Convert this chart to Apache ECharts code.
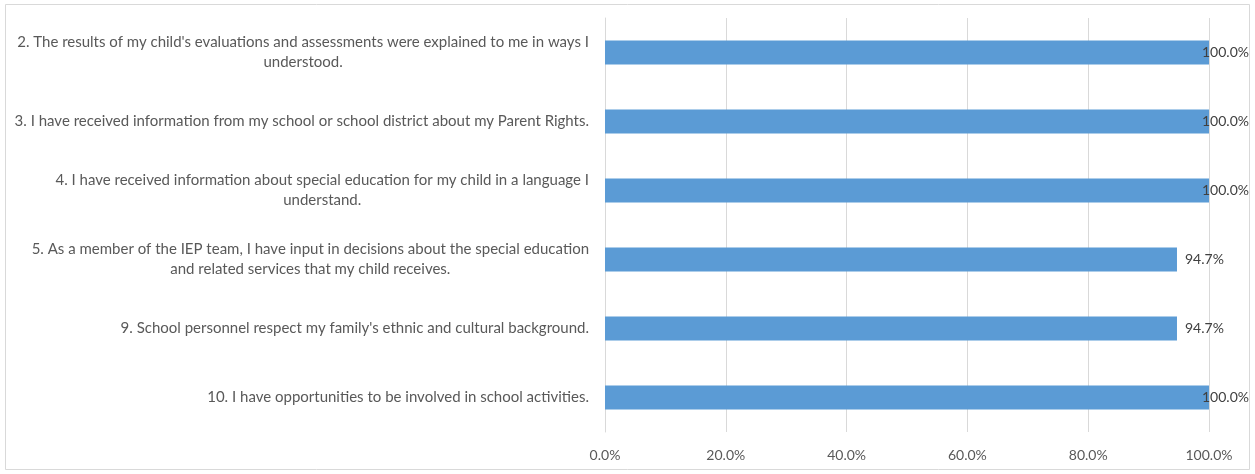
<!DOCTYPE html>
<html>
<head>
<meta charset="utf-8">
<script src="https://cdn.jsdelivr.net/npm/echarts@6/dist/echarts.min.js"></script>
<style>
html,body{margin:0;padding:0;background:#fff;}
#chart{width:1255px;height:474px;}
</style>
</head>
<body>
<div id="chart"></div>
<script>
var categories = [
  "2. The results of my child's evaluations and assessments were explained to me in ways I\nunderstood.",
  "3. I have received information from my school or school district about my Parent Rights.",
  "4. I have received information about special education for my child in a language I\nunderstand.",
  "5. As a member of the IEP team, I have input in decisions about the special education\nand related services that my child receives.",
  "9. School personnel respect my family's ethnic and cultural background.",
  "10. I have opportunities to be involved in school activities."
];
var values = [100.0, 100.0, 100.0, 94.7, 94.7, 100.0];
var xTicks = [0, 20, 40, 60, 80, 100];

var FONT = 'Lato';
var chart = echarts.init(document.getElementById('chart'), null, {renderer: 'canvas'});
chart.setOption({
  animation: false,
  backgroundColor: '#ffffff',
  graphic: [{
    type: 'rect',
    shape: {x: 5.5, y: 4.5, width: 1244, height: 465},
    style: {fill: 'none', stroke: '#d9d9d9', lineWidth: 1},
    silent: true, z: -10
  }],
  grid: {left: 605, right: 46, top: 18, bottom: 42, containLabel: false},
  xAxis: {
    type: 'value',
    min: xTicks[0],
    max: xTicks[xTicks.length - 1],
    interval: xTicks[1] - xTicks[0],
    axisLine: {show: false},
    axisTick: {show: false},
    splitLine: {show: true, lineStyle: {color: '#d9d9d9', width: 1}},
    axisLabel: {
      color: '#595959', fontFamily: FONT, fontSize: 14, margin: 16,
      formatter: function (v) { return v.toFixed(1) + '%'; }
    }
  },
  yAxis: {
    type: 'category',
    data: categories,
    inverse: true,
    axisLine: {show: true, lineStyle: {color: '#d9d9d9'}},
    axisTick: {show: false},
    axisLabel: {
      margin: 16,
      align: 'right',
      color: '#595959',
      fontFamily: FONT,
      fontSize: 15,
      lineHeight: 20,
      formatter: function (v) {
        return v.split('\n').map(function (l) { return '{c|' + l + '}'; }).join('\n');
      },
      rich: {c: {align: 'center', color: '#595959', fontFamily: FONT, fontSize: 15, lineHeight: 20}}
    }
  },
  series: [{
    type: 'bar',
    barWidth: 24,
    itemStyle: {color: '#5b9bd5'},
    label: {
      show: true,
      position: 'right',
      distance: 8,
      color: '#404040',
      fontFamily: FONT,
      fontSize: 14,
      formatter: function (p) { return p.value.toFixed(1) + '%'; }
    },
    data: values.map(function (v) {
      return v >= 99.95 ? {value: v, label: {offset: [-15, 0]}} : {value: v};
    })
  }]
});
</script>
</body>
</html>
